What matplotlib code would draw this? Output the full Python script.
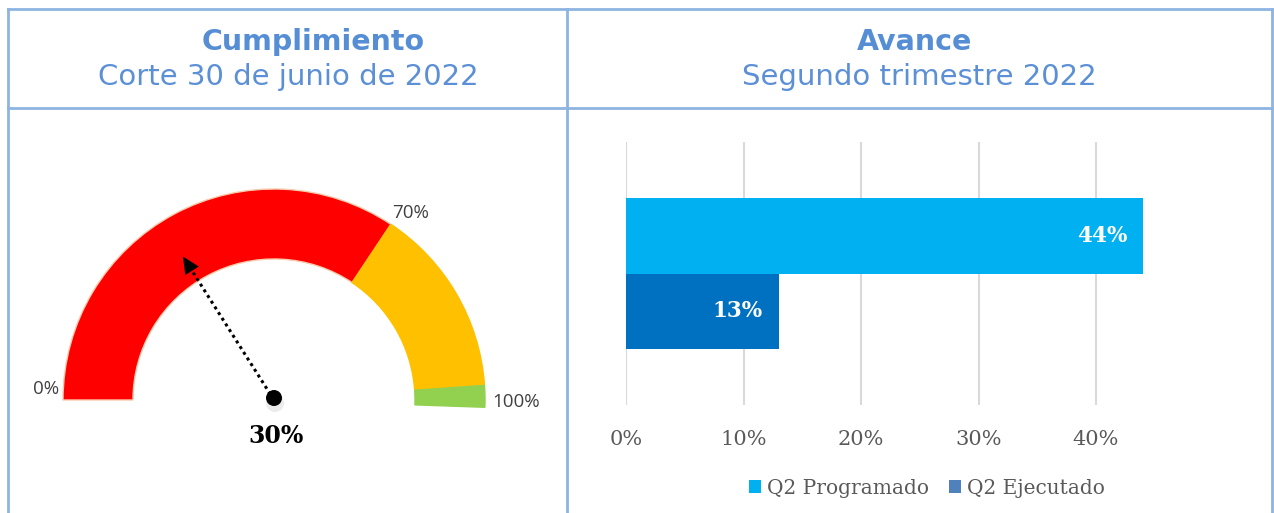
import matplotlib.pyplot as plt
import numpy as np
from matplotlib.patches import Wedge, Circle, Patch, Polygon

# gauge data (fraction of the dial, 0 = left, 1 = right)
gauge_value = 0.30
needle_pos = 0.32  # where the needle is drawn in the picture
band_edges = [0.0, 0.687, 0.978, 1.011]
band_colors = ['#FF0000', '#FFC000', '#92D050']
gauge_tick_labels = ['0%', '70%', '100%']

# bar data
series = ['Q2 Programado', 'Q2 Ejecutado']
values = [0.44, 0.13]
bar_colors = ['#00B0F0', '#0070C0']
legend_colors = ['#00B0F0', '#4F81BD']
x_ticks = [0.0, 0.1, 0.2, 0.3, 0.4]

W, H = 1274, 513
title_blue = '#558ED5'
border = '#8DB4E2'

fig = plt.figure(figsize=(W / 100, H / 100), dpi=100)
bg = fig.add_axes([0, 0, 1, 1])
bg.set_xlim(0, W)
bg.set_ylim(0, H)
bg.set_aspect('equal')
bg.axis('off')


def py(y):
    # pixel row (from top) to data y
    return H - y


# frame
lw = 2
bg.plot([8, 1272], [py(9), py(9)], color=border, lw=lw)
bg.plot([8, 1272], [py(108), py(108)], color=border, lw=lw)
for x in [8, 567, 1272]:
    bg.plot([x, x], [py(9), py(515)], color=border, lw=lw)

# headers
bg.text(313, py(42), 'Cumplimiento', ha='center', va='center', fontsize=20.5,
        fontweight='bold', color=title_blue, family='DejaVu Sans')
bg.text(288, py(77), 'Corte 30 de junio de 2022', ha='center', va='center',
        fontsize=21, color='#5B8FD6', family='DejaVu Sans')
bg.text(915, py(42), 'Avance', ha='center', va='center', fontsize=20.5,
        fontweight='bold', color=title_blue, family='DejaVu Sans')
bg.text(919, py(77), 'Segundo trimestre 2022', ha='center', va='center',
        fontsize=21, color='#5B8FD6', family='DejaVu Sans')

# gauge
cx, cy = 274, py(400)
R, r = 211, 141


def frac_to_deg(f):
    return 180.0 - 180.0 * f


for i, c in enumerate(band_colors):
    t1 = frac_to_deg(band_edges[i + 1])
    t2 = frac_to_deg(band_edges[i])
    ec = '#F8CBAD' if i == 0 else c
    bg.add_patch(Wedge((cx, cy), R, t1, t2, width=R - r, facecolor=c,
                       edgecolor=ec, lw=1))

label_xy = [(46, 389), (411, 213), (516, 402)]
for (x, y), lab in zip(label_xy, gauge_tick_labels):
    bg.text(x, py(y), lab, ha='center', va='center', fontsize=13.5,
            color='#404040', family='Open Sans')

# needle: dotted shaft plus a triangular head
ang = np.deg2rad(frac_to_deg(needle_pos))
u = np.array([np.cos(ang), np.sin(ang)])
n = np.array([-u[1], u[0]])
L, head_len, head_w = 170, 17, 8
c0 = np.array([cx, cy])
tip = c0 + L * u
back = c0 + (L - head_len) * u
bg.plot([cx, back[0]], [cy, back[1]], color='black', lw=2.2, ls=(0, (1, 1.2)))
bg.add_patch(Polygon([tip, back + head_w * n, back - head_w * n], closed=True,
                     facecolor='black', edgecolor='none', zorder=4))
bg.add_patch(Circle((cx + 1, cy - 3), 9, facecolor='#C8C8C8', edgecolor='none',
                    alpha=0.35))
bg.add_patch(Circle((cx, cy + 2), 8, facecolor='black', edgecolor='none', zorder=5))
bg.text(276, py(436), f'{gauge_value:.0%}', ha='center', va='center', fontsize=17,
        fontweight='bold', color='black', family='DejaVu Serif')

# bar chart
x0, x1 = 626, 1178
ytop, ybot = 142, 405
ax = fig.add_axes([x0 / W, 1 - ybot / H, (x1 - x0) / W, (ybot - ytop) / H])
ax.set_xlim(0, (x1 - x0) / 1175.0)
ax.set_ylim(0, 1)
ax.patch.set_alpha(0)
for s in ax.spines.values():
    s.set_visible(False)
ax.set_xticks(x_ticks)
ax.set_xticklabels([f'{t:.0%}' for t in x_ticks])
ax.set_yticks([])
ax.tick_params(axis='x', length=0, pad=18, labelsize=15, labelcolor='#595959')
for lab in ax.get_xticklabels():
    lab.set_family('DejaVu Serif')
ax.grid(axis='x', color='#D9D9D9', lw=1.5)
ax.set_axisbelow(True)

h = 0.287
ypos = [0.5 + h / 2, 0.5 - h / 2]
ax.barh(ypos, values, height=h, color=bar_colors)
for yv, v in zip(ypos, values):
    ax.annotate(f'{v:.0%}', xy=(v, yv), xytext=(-16, 0), textcoords='offset pixels',
                ha='right', va='center', fontsize=15.5, fontweight='bold',
                color='white', family='DejaVu Serif')

handles = [Patch(facecolor=c, label=s) for s, c in zip(series, legend_colors)]
fig.legend(handles=handles, loc='center', bbox_to_anchor=(927 / W, 1 - 488 / H),
           ncol=2, frameon=False, handlelength=0.6, handleheight=0.6,
           handletextpad=0.3, columnspacing=1.0,
           prop={'family': 'DejaVu Serif', 'size': 14.5}, labelcolor='#595959')

fig.savefig('out.png', dpi=100, facecolor='white')
